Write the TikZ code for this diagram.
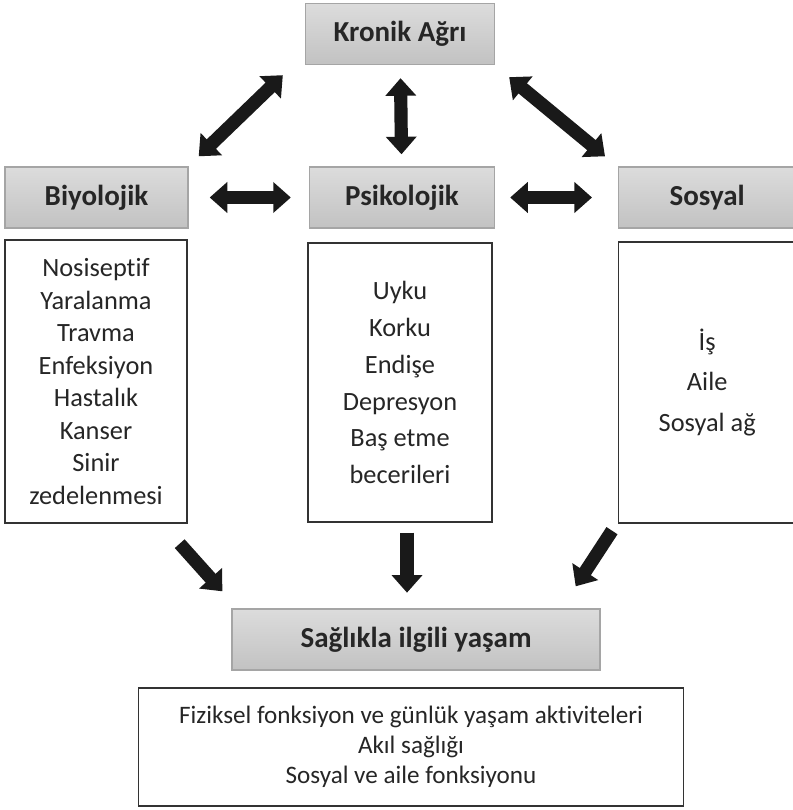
\documentclass[tikz,border=0pt]{standalone}
\usepackage{fontspec}
\setmainfont[Ligatures=NoCommon]{Carlito}
\usetikzlibrary{arrows.meta, positioning, calc}
\definecolor{hdrEdge}{HTML}{A5A5A5}
\definecolor{hdrTop}{HTML}{DCDCDC}
\definecolor{hdrBot}{HTML}{C2C2C2}
\definecolor{txtDark}{HTML}{262626}

\begin{document}
\begin{tikzpicture}[x=0.02cm, y=-0.02cm,
    hdr/.style={draw=hdrEdge, line width=0.8pt, top color=hdrTop, bottom color=hdrBot,
                minimum height=1.22cm, inner sep=0pt, text=txtDark,
                font=\fontsize{16.5}{19}\selectfont\bfseries},
    lst/.style={draw=black!80, line width=0.8pt, fill=white, inner sep=0pt,
                align=center, text=txtDark},
    dbl/.style={{Triangle[width=17pt,length=10pt]}-{Triangle[width=17pt,length=10pt]},
                line width=7.5pt, black!90},
    one/.style={-{Triangle[width=17pt,length=10pt]}, line width=7.5pt, black!90}
]
  \useasboundingbox (0,0) rectangle (792,810);
  % top row
  \node[hdr, minimum width=3.78cm] (kronik) at (400,34) {Kronik Ağrı};
  \node[hdr, minimum width=3.66cm] (biyo) at (96.5,197.5) {Biyolojik};
  \node[hdr, minimum width=3.7cm] (psiko) at (402,197.5) {Psikolojik};
  \node[hdr, minimum width=3.54cm, anchor=west] (sosyal) at (618,197.5) {Sosyal};
  % factor lists
  \node[lst, minimum width=3.64cm, minimum height=5.66cm,
        font=\fontsize{15}{18.5}\selectfont] (biyolist) at (96,381.5)
        {Nosiseptif\\Yaralanma\\Travma\\Enfeksiyon\\Hastalık\\Kanser\\Sinir\\zedelenmesi};
  \node[lst, minimum width=3.68cm, minimum height=5.58cm,
        font=\fontsize{15}{21}\selectfont] (psikolist) at (400,382.5)
        {Uyku\\Korku\\Endişe\\Depresyon\\Baş etme\\becerileri};
  \node[lst, minimum width=3.54cm, minimum height=5.62cm, anchor=west,
        font=\fontsize{15}{23.3}\selectfont] (sosyallist) at (618,382.5)
        {İş\\Aile\\Sosyal ağ};
  % outcome
  \node[hdr, minimum width=7.36cm] (saglik) at (416,639.5) {Sağlıkla ilgili yaşam};
  \node[lst, minimum width=10.9cm, minimum height=2.36cm,
        font=\fontsize{14.3}{17}\selectfont] (sonuc) at (411,747)
        {Fiziksel fonksiyon ve günlük yaşam aktiviteleri\\Akıl sağlığı\\Sosyal ve aile fonksiyonu};
  % arrows
  \draw[dbl] ($(kronik.south west)+(-22,10)$) -- ($(biyo.north east)+(10,-10)$);
  \draw[dbl, shorten <=0.26cm, shorten >=0.24cm] (kronik) -- (psiko);
  \draw[dbl] ($(kronik.south east)+(14,12)$) -- ($(sosyal.north west)+(-13,-10)$);
  \draw[dbl, shorten <=0.42cm, shorten >=0.36cm] (biyo) -- (psiko);
  \draw[dbl, shorten <=0.3cm, shorten >=0.52cm] (psiko) -- (sosyal);
  \draw[one] ($(biyolist.south east)+(-8,20)$) -- ($(saglik.north west)+(-9,-17)$);
  \draw[one] ($(psikolist.south)+(7,10)$) -- ($(psikolist.south)+(7,70)$);
  \draw[one] ($(sosyallist.south west)+(-6,7)$) -- ($(saglik.north east)+(-25,-22)$);
\end{tikzpicture}
\end{document}
